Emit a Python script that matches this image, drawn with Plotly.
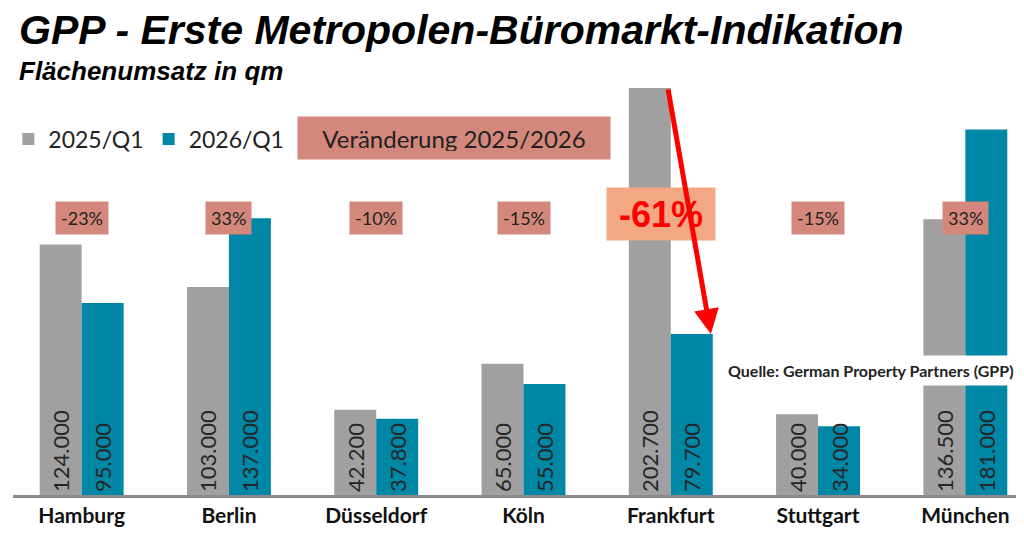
import plotly.graph_objects as go

cities = ["Hamburg", "Berlin", "Düsseldorf", "Köln", "Frankfurt", "Stuttgart", "München"]
q1_2025 = [124000, 103000, 42200, 65000, 202700, 40000, 136500]
q1_2026 = [95000, 137000, 37800, 55000, 79700, 34000, 181000]
series_names = ["2025/Q1", "2026/Q1"]

GRAY = "#A0A0A0"
TEAL = "#0087A6"
SALMON = "#D4887C"
ORANGE = "#F3A883"
FONT = "Lato"

OFF = 8                    # page body margin
W, H = 1024, 542
PLOT_TOP, BASE = 88, 495   # page pixels
PH = BASE - PLOT_TOP
STEP = 148.0               # px per category

def px(X):
    return (X - OFF) / W

def py(Y):
    return (BASE - Y) / PH

def fmt(v):
    return f"{v:,}".replace(",", ".")

fig = go.Figure()
for name, vals, col in [(series_names[0], q1_2025, GRAY), (series_names[1], q1_2026, TEAL)]:
    fig.add_trace(go.Bar(
        x=cities, y=vals, name=name, marker=dict(color=col, line=dict(width=0)),
        text=[fmt(v) for v in vals], textposition="inside", insidetextanchor="start",
        textangle=-90, textfont=dict(family=FONT, size=22, color="#262626"),
        constraintext="none",
    ))

YMAX = 201500
r0 = -(77 - OFF) / STEP
r1 = r0 + W / STEP
fig.update_layout(
    width=W, height=H,
    margin=dict(l=0, r=0, t=PLOT_TOP - OFF, b=H - (BASE - OFF)),
    paper_bgcolor="white", plot_bgcolor="white",
    barmode="group", bargap=0.43, bargroupgap=0,
    xaxis=dict(range=[r0, r1], showline=True, linecolor="#8A8A8A", linewidth=3,
               ticks="", showgrid=False, automargin=False,
               tickfont=dict(family=FONT, size=21, color="#111111", weight="bold")),
    yaxis=dict(range=[0, YMAX], visible=False, showgrid=False),
    legend=dict(orientation="h", x=-0.0046, y=py(139), yanchor="middle", xanchor="left",
                font=dict(family=FONT, size=23, color="#222222"),
                bgcolor="rgba(0,0,0,0)"),
    font=dict(family=FONT),
)

annotations = []
annotations.append(dict(text="<b><i>GPP - Erste Metropolen-Büromarkt-Indikation</i></b>",
                        xref="paper", yref="paper", x=px(13), y=py(30),
                        xanchor="left", yanchor="middle", showarrow=False, borderpad=0,
                        font=dict(family="Arial", size=41, color="black")))
annotations.append(dict(text="<b><i>Flächenumsatz in qm</i></b>",
                        xref="paper", yref="paper", x=px(13), y=py(71),
                        xanchor="left", yanchor="middle", showarrow=False, borderpad=0,
                        font=dict(family="Arial", size=26, color="black")))
annotations.append(dict(text="Veränderung 2025/2026", xref="paper", yref="paper",
                        x=px(451), y=py(137.5), xanchor="center", yanchor="middle",
                        showarrow=False, bgcolor=SALMON, borderpad=8, width=296, height=26,
                        font=dict(family=FONT, size=24, color="#222222")))
for i, (c, a, b) in enumerate(zip(cities, q1_2025, q1_2026)):
    pct = round((b / a - 1) * 100)
    label = f"{pct}%"
    if c == "Frankfurt":
        annotations.append(dict(text=f"<b>{label}</b>", x=c, y=py(213.5), yref="paper",
                                xanchor="center", yanchor="middle", showarrow=False, xshift=-10,
                                bgcolor=ORANGE, width=100, height=44, borderpad=4,
                                font=dict(family="Arial", size=36, color="#FF0000")))
        annotations.append(dict(text="", x=i + 0.272, y=b, xref="x", yref="y",
                                ax=i - 0.02, ay=YMAX, axref="x", ayref="y",
                                showarrow=True, arrowhead=2, arrowsize=1.0, arrowwidth=5,
                                arrowcolor="#FF0000", standoff=0))
    else:
        annotations.append(dict(text=label, x=c, y=py(217.5), yref="paper",
                                xanchor="center", yanchor="middle", showarrow=False,
                                bgcolor=SALMON, borderpad=5,
                                font=dict(family=FONT, size=18, color="#222222")))
annotations.append(dict(text="<b>Quelle: German Property Partners (GPP)</b>", xref="paper", yref="paper",
                        x=px(720), y=py(371), xanchor="left", yanchor="middle",
                        showarrow=False, bgcolor="white", borderpad=5,
                        font=dict(family=FONT, size=16, color="#222222")))
fig.update_layout(annotations=annotations)

fig.write_html("out.html")
